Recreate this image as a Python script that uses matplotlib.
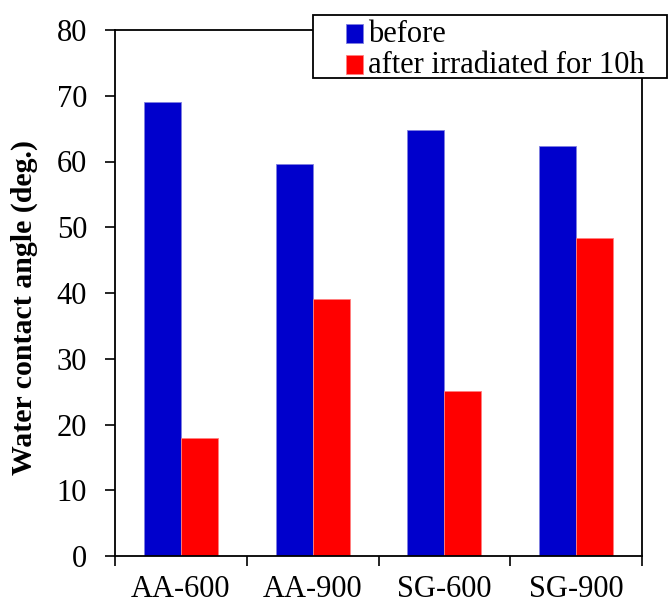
import matplotlib
matplotlib.use("Agg")
import matplotlib.pyplot as plt
import numpy as np
from matplotlib.patches import Rectangle
from matplotlib.legend_handler import HandlerPatch

categories = ["AA-600", "AA-900", "SG-600", "SG-900"]
before = [69.0, 59.6, 64.8, 62.4]
after = [18.0, 39.1, 25.1, 48.4]
series_labels = ["before", "after irradiated for 10h"]
yticks = [0, 10, 20, 30, 40, 50, 60, 70, 80]

plt.rcParams['font.family'] = ['Liberation Serif', 'DejaVu Serif']

W, H = 668, 608
fig = plt.figure(figsize=(W/100, H/100), dpi=100)
ax = fig.add_axes([115/W, 1-556/H, (642-115)/W, (556-30)/H])

x = np.arange(len(categories))
bw = 0.28
b1 = ax.bar(x - bw/2, before, bw, color='#0000CC', edgecolor='#8080E0', linewidth=0.6, label=series_labels[0])
b2 = ax.bar(x + bw/2, after, bw, color='#FF0000', edgecolor='#FF8080', linewidth=0.6, label=series_labels[1])

ax.set_xlim(-0.5, len(categories) - 0.5)
ax.set_ylim(0, 80)
ax.set_yticks(yticks)
ax.set_yticklabels([str(v) for v in yticks])
ax.set_xticks(x)
ax.set_xticklabels(categories)
ax.set_xticks(np.arange(len(categories) + 1) - 0.5, minor=True)
ax.tick_params(axis='x', which='major', length=0, pad=14, labelsize=22)
ax.tick_params(axis='x', which='minor', length=7, width=1.2, direction='out')
ax.tick_params(axis='y', length=7, width=1.2, direction='out', pad=13, labelsize=22)
for s in ax.spines.values():
    s.set_linewidth(1.3)

ax.set_ylabel("Water contact angle (deg.)", fontsize=21.5, fontweight='bold')
ax.yaxis.set_label_coords(-0.146, 0.473)

rect = Rectangle((313/W, 1-78/H), 354/W, 63/H, transform=fig.transFigure,
                 facecolor='white', edgecolor='black', linewidth=1.3, zorder=3)
fig.patches.append(rect)

def square(legend, orig_handle, xdescent, ydescent, width, height, fontsize):
    return Rectangle((-xdescent, -ydescent - 1.8), width, height)

h1, h2 = b1.patches[0], b2.patches[0]
leg = fig.legend(handles=[h1, h2], labels=series_labels, loc='upper left',
                 bbox_to_anchor=(346/W, 1-20/H), frameon=False, fontsize=22,
                 borderpad=0, handlelength=0.56, handleheight=0.59,
                 handletextpad=0.15, labelspacing=0.05, borderaxespad=0,
                 handler_map={h1: HandlerPatch(patch_func=square),
                              h2: HandlerPatch(patch_func=square)})
leg.set_zorder(5)

fig.savefig("out.png", dpi=100)
